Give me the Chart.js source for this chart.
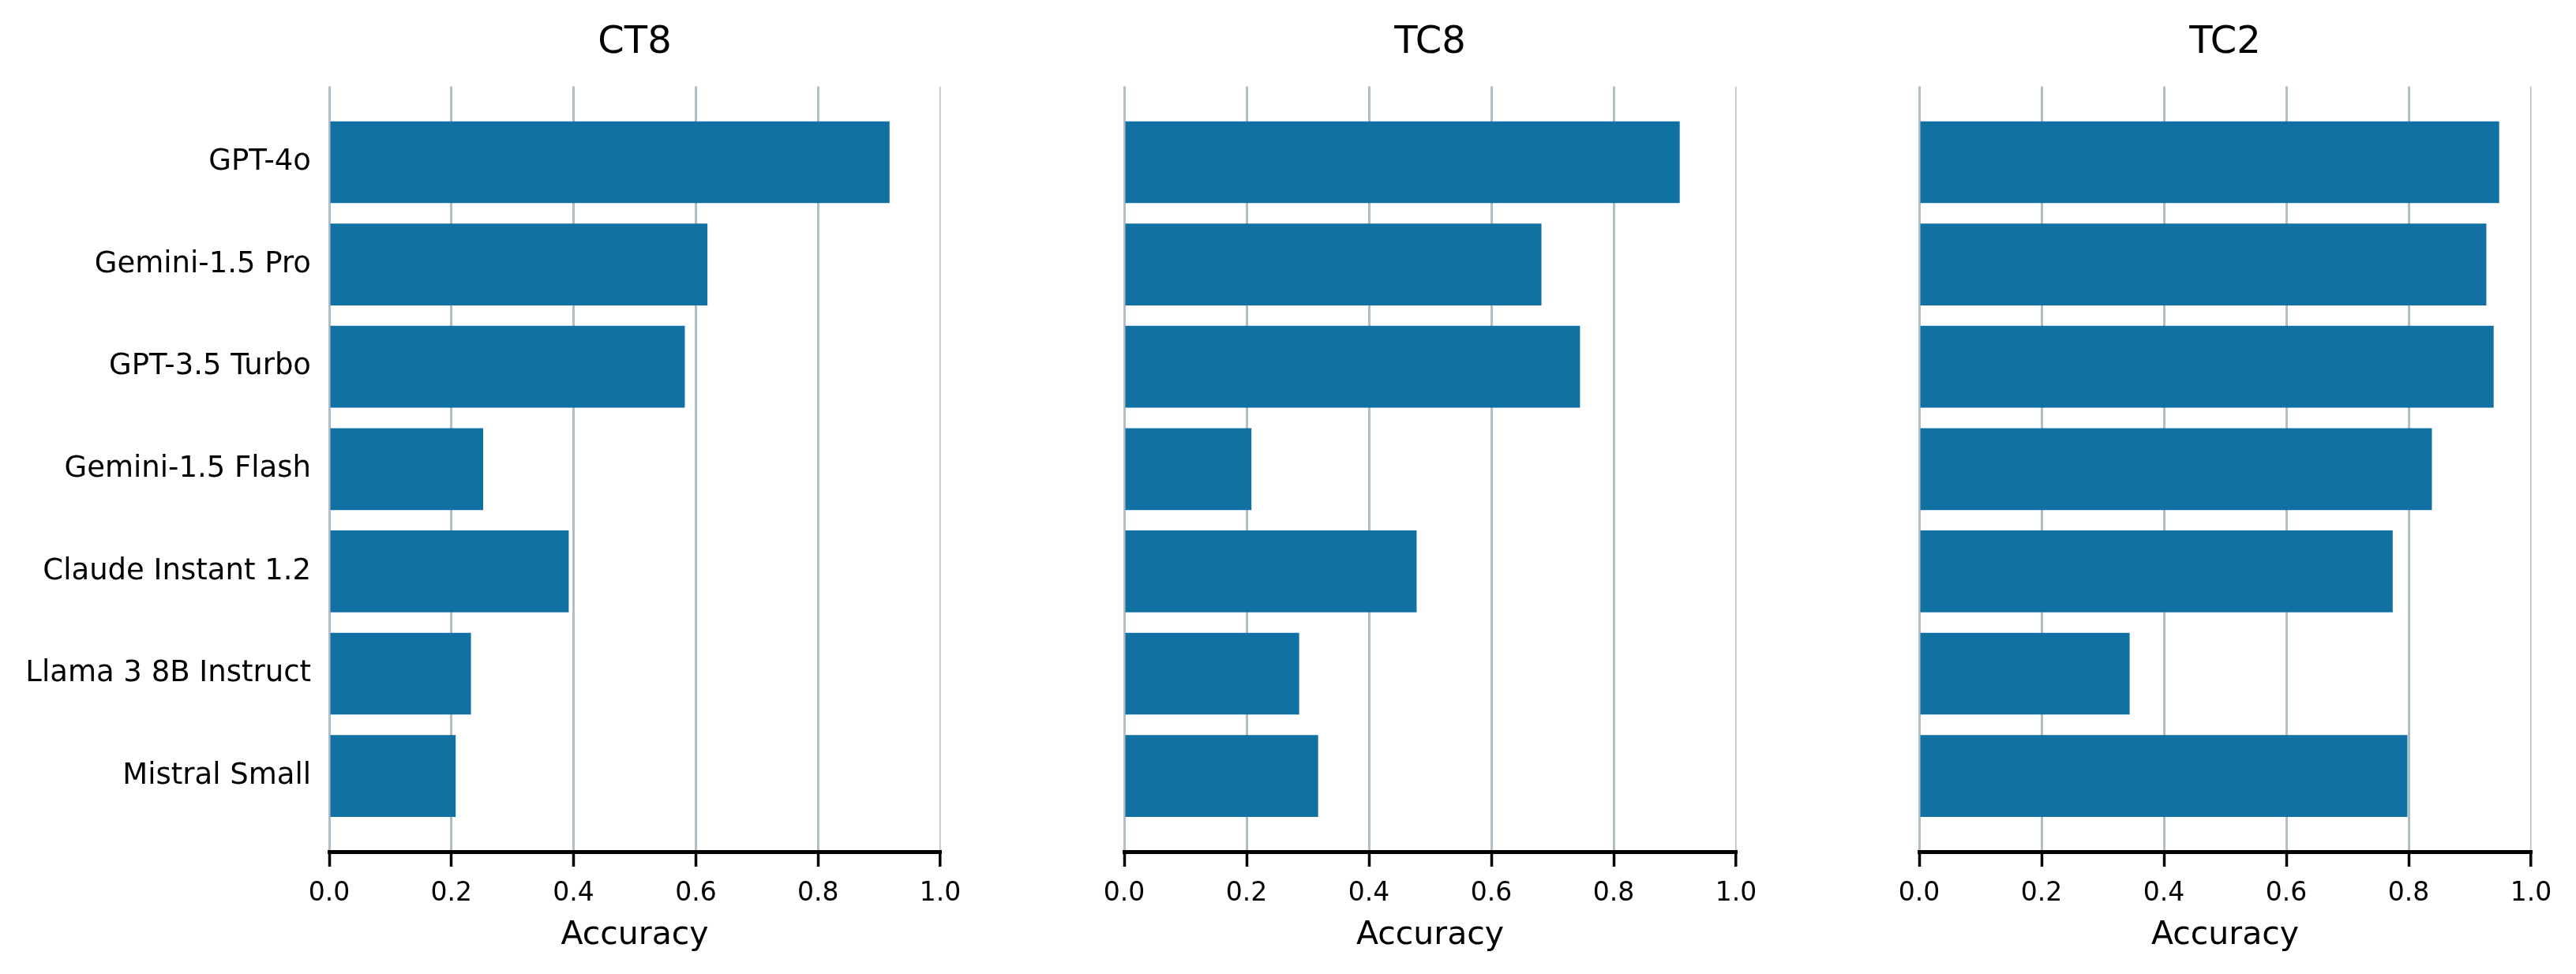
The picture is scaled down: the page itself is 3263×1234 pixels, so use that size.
<!DOCTYPE html>
<html>
<head>
<meta charset="utf-8">
<script src="https://cdn.jsdelivr.net/npm/chart.js@4/dist/chart.umd.min.js"></script>
<style>
  body { margin: 0; background: #fff; width: 3263px; height: 1234px; overflow: hidden; }
  canvas { position: absolute; top: 0; }
</style>
</head>
<body>
<canvas id="c1" width="1230" height="1234" style="left:0px"></canvas>
<canvas id="c2" width="1000" height="1234" style="left:1230px"></canvas>
<canvas id="c3" width="1033" height="1234" style="left:2230px"></canvas>
<script>
var models = ["GPT-4o", "Gemini-1.5 Pro", "GPT-3.5 Turbo", "Gemini-1.5 Flash",
  "Claude Instant 1.2", "Llama 3 8B Instruct", "Mistral Small"];
var ct8 = [0.917, 0.619, 0.582, 0.252, 0.392, 0.232, 0.207];
var tc8 = [0.908, 0.682, 0.745, 0.208, 0.478, 0.286, 0.317];
var tc2 = [0.948, 0.927, 0.939, 0.838, 0.774, 0.344, 0.798];
var xTicks = [0, 0.2, 0.4, 0.6, 0.8, 1.0];
var panelTitles = ["CT8", "TC8", "TC2"];

var barColor = "#1271a3";
var gridColor = "#b0bec5";
var font = "'DejaVu Sans', sans-serif";

function drawPanel(id, title, values, yWidth, padRight, showLabels) {
  var ctx = document.getElementById(id).getContext("2d");
  new Chart(ctx, {
    type: "bar",
    data: {
      datasets: [{
        data: values.map(function (v, i) { return { x: v, y: i }; }),
        backgroundColor: barColor,
        borderWidth: 0,
        categoryPercentage: 1,
        barPercentage: 0.8
      }]
    },
    options: {
      indexAxis: "y",
      responsive: false,
      animation: false,
      devicePixelRatio: 1,
      layout: { padding: { left: 0, right: padRight, top: 0, bottom: 0 } },
      plugins: {
        legend: { display: false },
        tooltip: { enabled: false },
        title: {
          display: true,
          text: title,
          fullSize: false,
          color: "#000",
          font: { family: font, size: 48, weight: "normal" },
          padding: { top: 26, bottom: 26 }
        }
      },
      scales: {
        x: {
          type: "linear",
          min: 0,
          max: 1,
          afterBuildTicks: function (s) { s.ticks = xTicks.map(function (v) { return { value: v }; }); },
          afterFit: function (s) {
            s.height = 155;
            s.paddingLeft = 0;
            s.paddingRight = 0;
          },
          border: { display: true, color: "#000", width: 5 },
          grid: {
            color: gridColor,
            lineWidth: function (c) { return c.tick && c.tick.value === 1 ? 1.5 : 3; },
            drawTicks: true,
            tickLength: 19,
            tickColor: "#000",
            tickWidth: 3.5
          },
          ticks: {
            color: "#000",
            padding: 15,
            font: { family: font, size: 33 },
            callback: function (v) { return Number(v).toFixed(1); }
          },
          title: {
            display: true,
            text: "Accuracy",
            color: "#000",
            font: { family: font, size: 41 },
            padding: { top: 0, bottom: 24 }
          }
        },
        y: {
          type: "linear",
          reverse: true,
          offset: false,
          min: -0.74,
          max: 6.74,
          afterBuildTicks: function (s) { s.ticks = models.map(function (m, i) { return { value: i }; }); },
          afterFit: function (s) { s.width = yWidth; },
          border: { display: false },
          grid: { display: false, drawTicks: false },
          ticks: {
            display: showLabels,
            color: "#000",
            padding: 23,
            font: { family: font, size: 37 },
            callback: function (v) { return models[v]; }
          }
        }
      }
    }
  });
}

drawPanel("c1", panelTitles[0], ct8, 417, 39, true);
drawPanel("c2", panelTitles[1], tc8, 194, 31, false);
drawPanel("c3", panelTitles[2], tc2, 201, 57, false);
</script>
</body>
</html>
